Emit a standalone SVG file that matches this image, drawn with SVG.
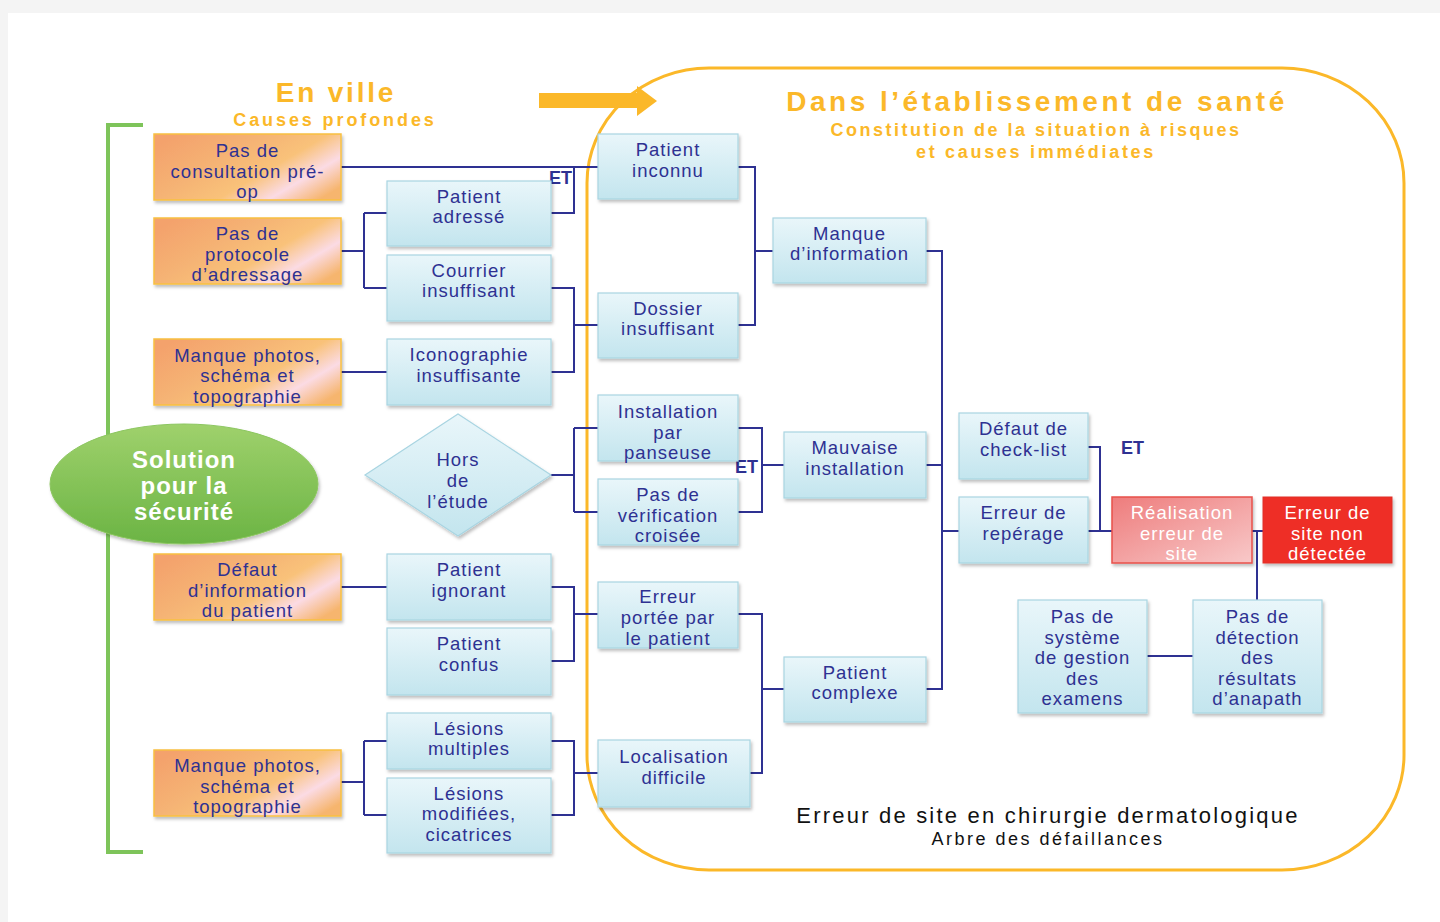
<svg xmlns="http://www.w3.org/2000/svg" width="1440" height="922" viewBox="0 0 1440 922">
<style>
text{font-family:"Liberation Sans",Arial,sans-serif}
.t{font-size:18.5px;fill:#2e3192;text-anchor:middle;letter-spacing:1px}
.w{font-size:18.5px;fill:#ffffff;text-anchor:middle;letter-spacing:1px}
.blue{fill:url(#gBlue);stroke:#a9d5e2;stroke-width:1.2;filter:url(#sh)}
.org{fill:url(#gOrg);stroke:#f8c040;stroke-width:1.5;filter:url(#sh)}
.con{fill:none;stroke:#2e3192;stroke-width:2}
.et{font-size:18px;font-weight:bold;fill:#2e3192}
.hd{font-weight:bold;fill:#fbb829;text-anchor:middle}
</style>
<defs>
<linearGradient id="gBlue" x1="0" y1="0" x2="0" y2="1">
<stop offset="0" stop-color="#e9f6fa"/><stop offset="1" stop-color="#c3e5ee"/>
</linearGradient>
<linearGradient id="gOrg" x1="0" y1="0.2" x2="1" y2="0.8">
<stop offset="0" stop-color="#f4a26c"/><stop offset="0.35" stop-color="#f5b374"/><stop offset="0.6" stop-color="#f9c27a"/><stop offset="0.8" stop-color="#fbdbe4"/><stop offset="1" stop-color="#f6b56e"/>
</linearGradient>
<linearGradient id="gGreen" x1="0" y1="0" x2="0" y2="1">
<stop offset="0" stop-color="#9fd16c"/><stop offset="1" stop-color="#6bb444"/>
</linearGradient>
<linearGradient id="gPink" x1="0" y1="0" x2="1" y2="1">
<stop offset="0" stop-color="#ee7c7c"/><stop offset="1" stop-color="#f8c9c9"/>
</linearGradient>
<filter id="sh" x="-10%" y="-10%" width="125%" height="130%">
<feDropShadow dx="1.5" dy="2.5" stdDeviation="1.5" flood-color="#000" flood-opacity="0.25"/>
</filter>
</defs>
<rect x="0" y="0" width="1440" height="922" fill="#f4f4f4"/>
<rect x="8" y="13" width="1432" height="909" fill="#ffffff"/>

<g id="headers">
<text class="hd" x="336" y="102" font-size="28" letter-spacing="2.8">En ville</text>
<text class="hd" x="335" y="126" font-size="18" letter-spacing="2.9">Causes profondes</text>
<text class="hd" x="1037" y="111" font-size="28" letter-spacing="3.5">Dans l’établissement de santé</text>
<text class="hd" x="1036" y="136" font-size="18" letter-spacing="2.5">Constitution de la situation à risques</text>
<text class="hd" x="1036" y="158" font-size="18" letter-spacing="2.7">et causes immédiates</text>
<polygon points="539,93 637,93 637,86 657,101 637,116 637,108 539,108" fill="#fbb829"/>
</g>

<rect id="etab" x="587" y="68" width="817" height="802" rx="122" ry="115" fill="none" stroke="#fbb829" stroke-width="3"/>
<path id="bracket" d="M143,125 H108 V852 H143" fill="none" stroke="#7ec45a" stroke-width="4"/>

<g id="connectors">
<path class="con" d="M341,167 H598"/>
<path class="con" d="M551,213 H574 V167"/>
<path class="con" d="M341,251 H364 M364,213 V288 M364,213 H387 M364,288 H387"/>
<path class="con" d="M551,288 H574 V372 H551 M574,325 H598"/>
<path class="con" d="M341,372 H387"/>
<path class="con" d="M545,475 H574 M574,428 V512 M574,428 H598 M574,512 H598"/>
<path class="con" d="M341,587 H387"/>
<path class="con" d="M551,587 H574 V661 H551 M574,614 H598"/>
<path class="con" d="M341,782 H364 M364,741 V815 M364,741 H387 M364,815 H387"/>
<path class="con" d="M551,741 H574 V815 H551 M574,773 H598"/>
<path class="con" d="M738,167 H755 V325 H738 M755,251 H773"/>
<path class="con" d="M738,428 H762 V512 H738 M762,465 H784"/>
<path class="con" d="M738,614 H762 V773 H750 M762,689 H784"/>
<path class="con" d="M926,251 H942 V689 H926 M926,465 H942 M942,531 H959"/>
<path class="con" d="M1088,447 H1100 V531 M1088,531 H1112"/>
<path class="con" d="M1252,531 H1263 M1257,531 V600"/>
<path class="con" d="M1147,656 H1193"/>
<text class="et" x="549" y="184">ET</text>
<text class="et" x="735" y="473">ET</text>
<text class="et" x="1121" y="454">ET</text>
</g>

<g id="solution">
<ellipse cx="184" cy="484" rx="134" ry="60" fill="url(#gGreen)" stroke="#8cc660" stroke-width="1" filter="url(#sh)"/>
<text x="184" y="468" font-size="24" font-weight="bold" fill="#fff" text-anchor="middle" letter-spacing="1">Solution</text>
<text x="184" y="494" font-size="24" font-weight="bold" fill="#fff" text-anchor="middle" letter-spacing="1">pour la</text>
<text x="184" y="520" font-size="24" font-weight="bold" fill="#fff" text-anchor="middle" letter-spacing="1">sécurité</text>
</g>

<g id="o1"><rect class="org" x="154" y="134" width="187" height="66"/><text class="t" x="247.5" y="157">Pas de<tspan x="247.5" y="178">consultation pré-</tspan><tspan x="247.5" y="198">op</tspan></text></g>
<g id="o2"><rect class="org" x="154" y="218" width="187" height="66"/><text class="t" x="247.5" y="240">Pas de<tspan x="247.5" y="261">protocole</tspan><tspan x="247.5" y="281">d’adressage</tspan></text></g>
<g id="o3"><rect class="org" x="154" y="339" width="187" height="66"/><text class="t" x="247.5" y="362">Manque photos,<tspan x="247.5" y="382">schéma et</tspan><tspan x="247.5" y="403">topographie</tspan></text></g>
<g id="o4"><rect class="org" x="154" y="554" width="187" height="66"/><text class="t" x="247.5" y="576">Défaut<tspan x="247.5" y="597">d’information</tspan><tspan x="247.5" y="617">du patient</tspan></text></g>
<g id="o5"><rect class="org" x="154" y="750" width="187" height="66"/><text class="t" x="247.5" y="772">Manque photos,<tspan x="247.5" y="793">schéma et</tspan><tspan x="247.5" y="813">topographie</tspan></text></g>

<g id="b1"><rect class="blue" x="387" y="181" width="164" height="65"/><text class="t" x="469" y="203">Patient<tspan x="469" y="223">adressé</tspan></text></g>
<g id="b2"><rect class="blue" x="387" y="255" width="164" height="66"/><text class="t" x="469" y="277">Courrier<tspan x="469" y="297">insuffisant</tspan></text></g>
<g id="b3"><rect class="blue" x="387" y="339" width="164" height="66"/><text class="t" x="469" y="361">Iconographie<tspan x="469" y="382">insuffisante</tspan></text></g>
<g id="hors"><polygon class="blue" points="365,475 458,414 551,475 458,536"/><text class="t" x="458" y="466">Hors<tspan x="458" y="487">de</tspan><tspan x="458" y="508">l’étude</tspan></text></g>
<g id="b4"><rect class="blue" x="387" y="554" width="164" height="66"/><text class="t" x="469" y="576">Patient<tspan x="469" y="597">ignorant</tspan></text></g>
<g id="b5"><rect class="blue" x="387" y="628" width="164" height="67"/><text class="t" x="469" y="650">Patient<tspan x="469" y="671">confus</tspan></text></g>
<g id="b6"><rect class="blue" x="387" y="713" width="164" height="56"/><text class="t" x="469" y="735">Lésions<tspan x="469" y="755">multiples</tspan></text></g>
<g id="b7"><rect class="blue" x="387" y="778" width="164" height="75"/><text class="t" x="469" y="800">Lésions<tspan x="469" y="820">modifiées,</tspan><tspan x="469" y="841">cicatrices</tspan></text></g>

<g id="c1"><rect class="blue" x="598" y="134" width="140" height="65"/><text class="t" x="668" y="156">Patient<tspan x="668" y="177">inconnu</tspan></text></g>
<g id="c2"><rect class="blue" x="598" y="293" width="140" height="65"/><text class="t" x="668" y="315">Dossier<tspan x="668" y="335">insuffisant</tspan></text></g>
<g id="c3"><rect class="blue" x="598" y="395" width="140" height="66"/><text class="t" x="668" y="418">Installation<tspan x="668" y="439">par</tspan><tspan x="668" y="459">panseuse</tspan></text></g>
<g id="c4"><rect class="blue" x="598" y="479" width="140" height="66"/><text class="t" x="668" y="501">Pas de<tspan x="668" y="522">vérification</tspan><tspan x="668" y="542">croisée</tspan></text></g>
<g id="c5"><rect class="blue" x="598" y="582" width="140" height="66"/><text class="t" x="668" y="603">Erreur<tspan x="668" y="624">portée par</tspan><tspan x="668" y="645">le patient</tspan></text></g>
<g id="c6"><rect class="blue" x="598" y="740" width="152" height="67"/><text class="t" x="674" y="763">Localisation<tspan x="674" y="784">difficile</tspan></text></g>

<g id="d1"><rect class="blue" x="773" y="218" width="153" height="65"/><text class="t" x="849.5" y="240">Manque<tspan x="849.5" y="260">d’information</tspan></text></g>
<g id="d2"><rect class="blue" x="784" y="432" width="142" height="66"/><text class="t" x="855" y="454">Mauvaise<tspan x="855" y="475">installation</tspan></text></g>
<g id="d3"><rect class="blue" x="784" y="657" width="142" height="65"/><text class="t" x="855" y="679">Patient<tspan x="855" y="699">complexe</tspan></text></g>

<g id="e1"><rect class="blue" x="959" y="413" width="129" height="66"/><text class="t" x="1023.5" y="435">Défaut de<tspan x="1023.5" y="456">check-list</tspan></text></g>
<g id="e2"><rect class="blue" x="959" y="497" width="129" height="66"/><text class="t" x="1023.5" y="519">Erreur de<tspan x="1023.5" y="540">repérage</tspan></text></g>
<g id="r1"><rect x="1112" y="497" width="140" height="66" fill="url(#gPink)" stroke="#e8504a" stroke-width="1.5" filter="url(#sh)"/><text class="w" x="1182" y="519">Réalisation<tspan x="1182" y="540">erreur de</tspan><tspan x="1182" y="560">site</tspan></text></g>
<g id="r2"><rect x="1263" y="497" width="129" height="66" fill="#ee2e26" stroke="#e0302a" stroke-width="1" filter="url(#sh)"/><text class="w" x="1327.5" y="519">Erreur de<tspan x="1327.5" y="540">site non</tspan><tspan x="1327.5" y="560">détectée</tspan></text></g>
<g id="f1"><rect class="blue" x="1018" y="600" width="129" height="113"/><text class="t" x="1082.5" y="623">Pas de<tspan x="1082.5" y="644">système</tspan><tspan x="1082.5" y="664">de gestion</tspan><tspan x="1082.5" y="685">des</tspan><tspan x="1082.5" y="705">examens</tspan></text></g>
<g id="f2"><rect class="blue" x="1193" y="600" width="129" height="113"/><text class="t" x="1257.5" y="623">Pas de<tspan x="1257.5" y="644">détection</tspan><tspan x="1257.5" y="664">des</tspan><tspan x="1257.5" y="685">résultats</tspan><tspan x="1257.5" y="705">d’anapath</tspan></text></g>

<g id="caption">
<text x="1048" y="823" font-size="22" fill="#111" text-anchor="middle" letter-spacing="2.2">Erreur de site en chirurgie dermatologique</text>
<text x="1048" y="845" font-size="18" fill="#111" text-anchor="middle" letter-spacing="2.5">Arbre des défaillances</text>
</g>
</svg>
